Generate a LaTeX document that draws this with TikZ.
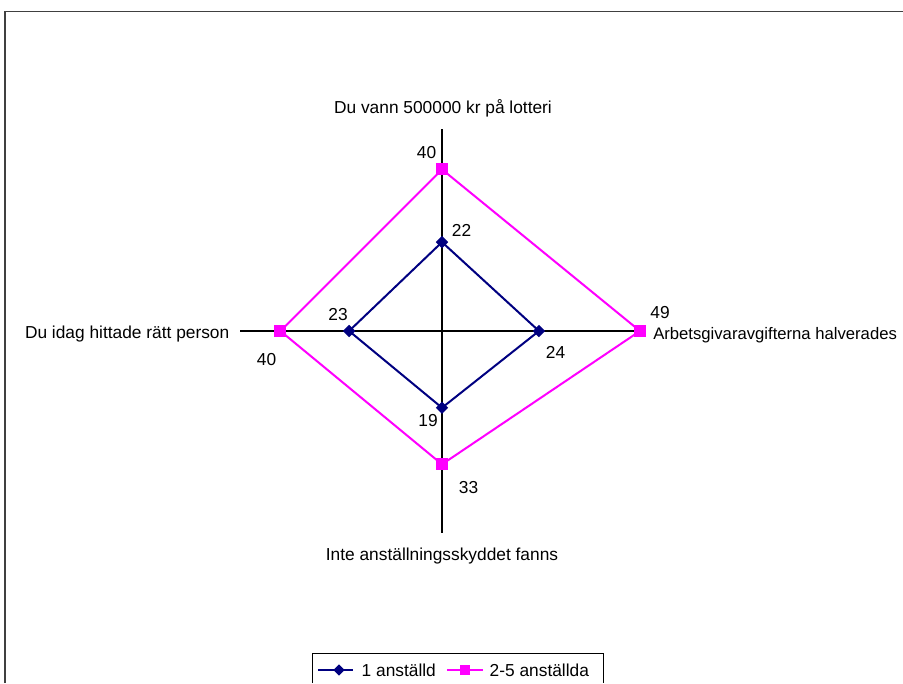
\documentclass[tikz,border=0pt]{standalone}
\usepackage{fontspec}
\setmainfont{Liberation Sans}
\usetikzlibrary{calc,shapes.geometric}
\definecolor{navy}{RGB}{0,0,128}
\definecolor{fuchsia}{RGB}{255,0,255}

\begin{document}
\begin{tikzpicture}[
    x=0.75pt, y=-0.75pt,
    font=\fontsize{13}{15}\selectfont,
    frame/.style={black!75,line width=1.1pt},
    axis/.style={black,line width=0.9pt},
    one line/.style={navy,line width=1.5pt},
    two line/.style={fuchsia,line width=1.5pt},
    one mark/.style={diamond,fill=navy,inner sep=0pt,minimum size=9.5pt},
    two mark/.style={rectangle,fill=fuchsia,inner sep=0pt,minimum size=9pt},
    value/.style={anchor=base}
]
\useasboundingbox (0,0) rectangle (903,683);

% Ram runt diagrammet
\draw[frame] (5,683) -- (5,11.5) -- (903,11.5);

% Axlar (max 50)
\coordinate (c) at (442,331);
\coordinate (ax n) at (442,129);
\coordinate (ax e) at (644,331);
\coordinate (ax s) at (442,533);
\coordinate (ax w) at (240,331);
\draw[axis] (ax n) -- (ax s);
\draw[axis] (ax w) -- (ax e);

% Axeltexter
\node[anchor=base] (lbl n) at (443,113) {Du vann 500000 kr på lotteri};
\node[anchor=base west,inner sep=0pt,font=\fontsize{12.5}{15}\selectfont] (lbl e) at (653,339) {Arbetsgivaravgifterna halverades};
\node[anchor=base] (lbl s) at (442,560) {Inte anställningsskyddet fanns};
\node[anchor=base east] (lbl w) at (234,338) {Du idag hittade rätt person};

% Datapunkter
\foreach \d/\v in {n/22, e/24, s/19, w/23}
    \coordinate (a \d) at ($(c)!{\v/50}!(ax \d)$);
\foreach \d/\v in {n/40, e/49, s/33, w/40}
    \coordinate (b \d) at ($(c)!{\v/50}!(ax \d)$);

% Serier
\draw[two line] (b n) -- (b e) -- (b s) -- (b w) -- cycle;
\draw[one line] (a n) -- (a e) -- (a s) -- (a w) -- cycle;
\foreach \d in {n,e,s,w} {
    \node[two mark] (m b \d) at (b \d) {};
    \node[one mark] (m a \d) at (a \d) {};
}

% Värden
\node[value] (v b n) at (426.5,158) {40};
\node[value] (v a n) at (461.5,236) {22};
\node[value] (v a w) at (338,320) {23};
\node[value] (v b w) at (266.5,365) {40};
\node[value] (v b e) at (660,318) {49};
\node[value] (v a e) at (555.5,358) {24};
\node[value] (v a s) at (428,426) {19};
\node[value] (v b s) at (468.5,493) {33};

% Förklaring
\draw[black,line width=0.6pt] (312,683) -- (312,653) -- (603,653) -- (603,683);
\coordinate (l1 a) at (318,670);
\coordinate (l1 b) at (353,670);
\draw[one line] (l1 a) -- (l1 b);
\node[one mark,minimum size=8.5pt] (l1 m) at (339,670) {};
\node[anchor=base west] (l1 t) at (357,676) {1 anställd};
\coordinate (l2 a) at (447,670);
\coordinate (l2 b) at (483,670);
\draw[two line] (l2 a) -- (l2 b);
\node[two mark,minimum size=8pt] (l2 m) at (465,670) {};
\node[anchor=base west] (l2 t) at (485,676) {2-5 anställda};

\end{tikzpicture}
\end{document}
